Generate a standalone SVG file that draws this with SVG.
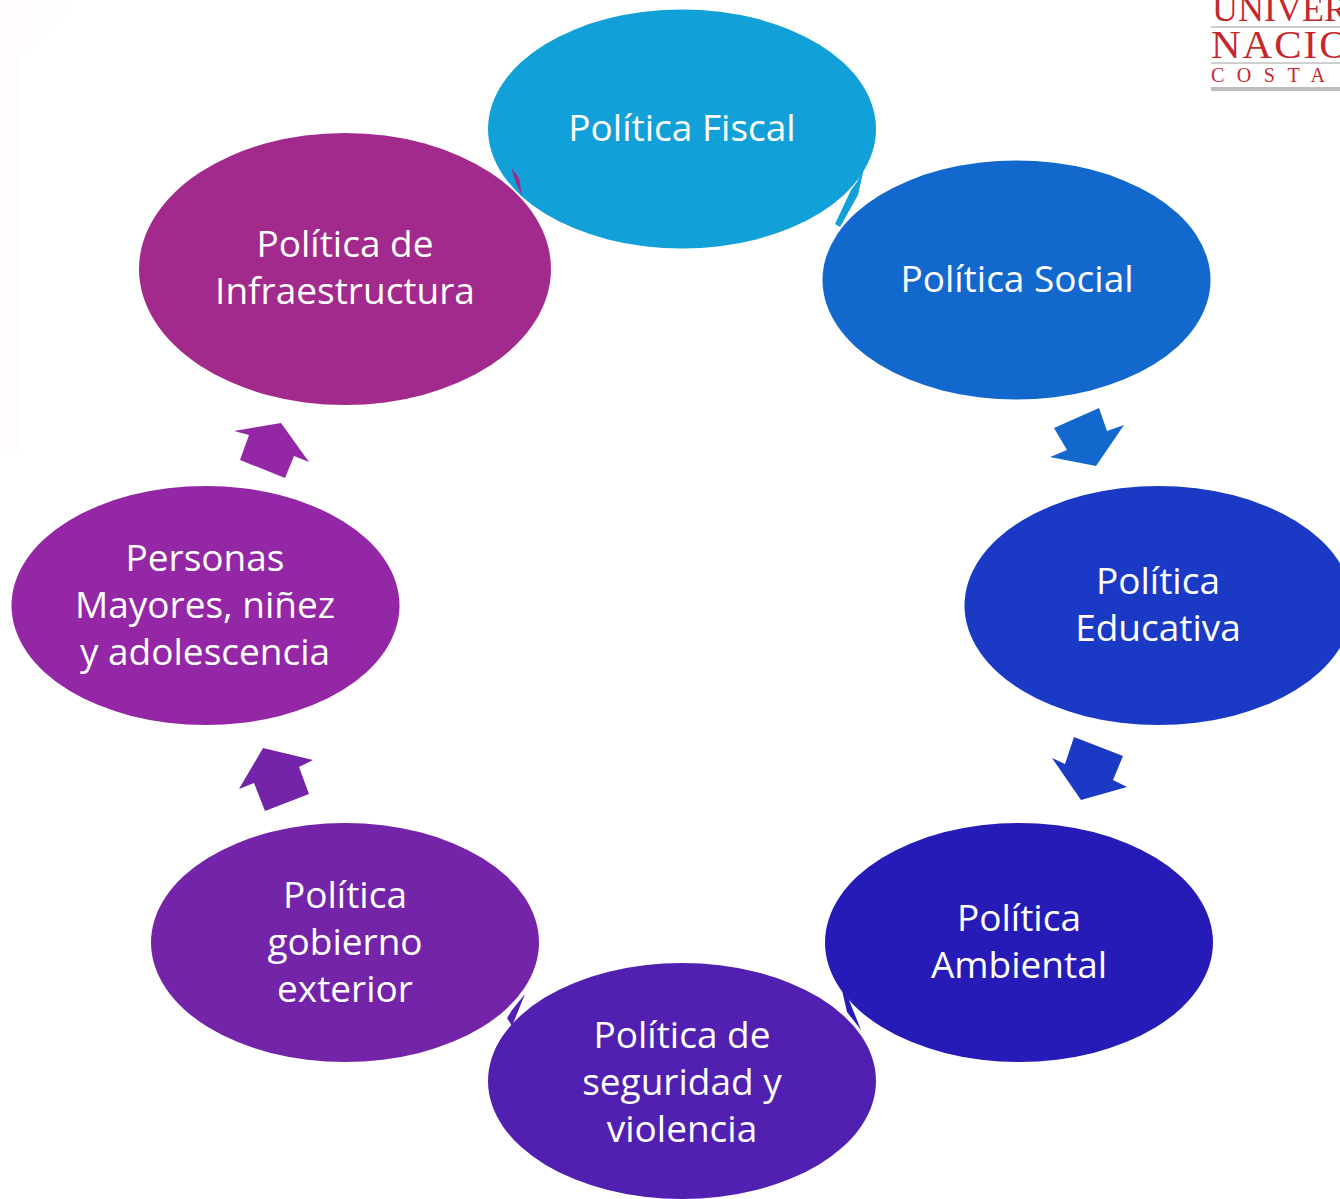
<svg xmlns="http://www.w3.org/2000/svg" width="1340" height="1199" viewBox="0 0 1340 1199">
<style>
text{font-family:"Open Sans","Liberation Sans",sans-serif}
.t{fill:#fff;font-size:37px;text-anchor:middle}
.l{font-family:"Liberation Serif",serif;fill:#c4282d}
</style>
<rect width="1340" height="1199" fill="#fff"/>
<g id="background-strip"><rect x="0" y="0" width="19" height="450" fill="#fffcfb"/><polygon points="19,0 75,0 19,60" fill="#fffdfd"/></g>
<g id="logo">
<text class="l" x="1212" y="21" font-size="36">UNIVER</text>
<rect x="1211" y="26" width="129" height="2" fill="#cfcfcf"/>
<text class="l" x="1211" y="58" font-size="41" letter-spacing="2">NACIO</text>
<rect x="1211" y="62" width="129" height="2" fill="#cfcfcf"/>
<text class="l" x="1211" y="82" font-size="20" letter-spacing="12.5">COSTA</text>
<rect x="1211" y="87" width="129" height="4" fill="#bdbdbd"/>
</g>
<g id="connectors">
<polygon points="835,224 851,190 857,182 864,168 858,195 840,227" fill="#12a0d8"/>
<polygon points="1054,428 1099,408 1107,431 1124,425 1096,466 1050,457 1067,450" fill="#1368ce"/>
<polygon points="1074,737 1123,756 1113,780 1127,787 1081,800 1052,758 1065,764" fill="#1a39c4"/>
<polygon points="842,990 849,1000 861,1030 847,1012" fill="#271bb8"/>
<polygon points="525,994 512,1026 507,1018 512,1010" fill="#5120b0"/>
<polygon points="239,789 263,748 313,760 299,767 309,794 265,811 254,783" fill="#7324a8"/>
<polygon points="234,431 281,423 309,462 294,456 285,478 240,460 249,435" fill="#9327a5"/>
</g>
<g id="node-fiscal"><ellipse cx="682" cy="129" rx="194" ry="119.5" fill="#12a0d8"/><text class="t" x="682" y="141">Política Fiscal</text></g>
<g id="node-social"><ellipse cx="1016.500" cy="280" rx="194" ry="119.500" fill="#1368ce"/><text class="t" x="1017" y="292">Política Social</text></g>
<g id="node-educativa"><ellipse cx="1158.500" cy="605.500" rx="194" ry="119.500" fill="#1a39c4"/><text class="t" x="1158" y="594">Política</text><text class="t" x="1158" y="641">Educativa</text></g>
<g id="node-ambiental"><ellipse cx="1019" cy="942.500" rx="194" ry="119.500" fill="#271bb8"/><text class="t" x="1019" y="931">Política</text><text class="t" x="1019" y="978">Ambiental</text></g>
<g id="node-seguridad"><ellipse cx="682" cy="1081" rx="194" ry="118" fill="#5120b0"/><text class="t" x="682" y="1048">Política de</text><text class="t" x="682" y="1095">seguridad y</text><text class="t" x="682" y="1142">violencia</text></g>
<g id="node-exterior"><ellipse cx="345" cy="942.500" rx="194" ry="119.500" fill="#7324a8"/><text class="t" x="345" y="908">Política</text><text class="t" x="345" y="955">gobierno</text><text class="t" x="345" y="1002">exterior</text></g>
<g id="node-personas"><ellipse cx="205.500" cy="605.500" rx="194" ry="119.500" fill="#9327a5"/><text class="t" x="205" y="571">Personas</text><text class="t" x="205" y="618">Mayores, niñez</text><text class="t" x="205" y="665">y adolescencia</text></g>
<g id="node-infraestructura"><ellipse cx="345" cy="269" rx="206" ry="136" fill="#a22a8c"/><text class="t" x="345" y="257">Política de</text><text class="t" x="345" y="304">Infraestructura</text></g>
<polygon id="sliver-top" points="511,167 519,178 522,196 516,183" fill="#a22a8c"/>
</svg>
